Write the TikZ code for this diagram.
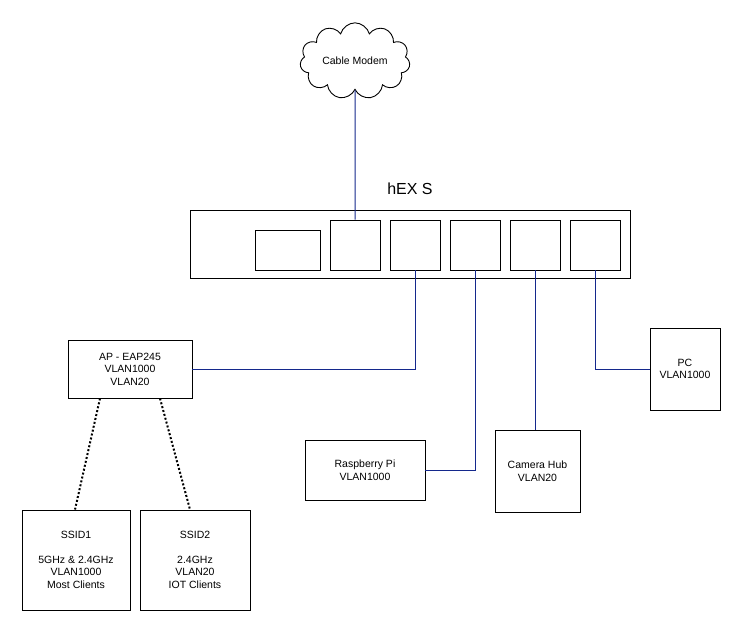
\documentclass[tikz,border=0pt]{standalone}
\usepackage{fontspec}
\setmainfont{Liberation Sans}
\usetikzlibrary{shapes.symbols,positioning}
\definecolor{linkblue}{RGB}{20,40,140}
\begin{document}
\begin{tikzpicture}[x=1pt,y=-1pt,line width=0.9pt,
  box/.style={draw,align=center,font=\fontsize{10.5}{12.5}\selectfont},
  port/.style={draw,minimum width=50pt,minimum height=50pt},
  link/.style={draw=linkblue,line width=1pt},
  wifi/.style={draw,line width=2pt,dotted}]
	\useasboundingbox (0,0) rectangle (751,631);
	\node[cloud,draw,cloud puffs=11,aspect=1.8,minimum width=110pt,minimum height=62pt,font=\fontsize{10.5}{12}\selectfont] (modem) at (355,61) {Cable Modem};
	\node[font=\fontsize{16}{18}\selectfont] (hexlabel) at (410,189) {hEX S};
	\node[draw,minimum width=440pt,minimum height=68pt] (hex) at (410,244) {};
	\node[draw,minimum width=65pt,minimum height=40pt] (sfp) at (287.5,250) {};
	\node[port] (p1) at (355,245) {};
	\node[port] (p2) at (415,245) {};
	\node[port] (p3) at (475,245) {};
	\node[port] (p4) at (535,245) {};
	\node[port] (p5) at (595,245) {};
	\node[box,minimum width=124pt,minimum height=58pt] (ap) at (130,369) {AP - EAP245\\VLAN1000\\VLAN20};
	\node[box,minimum width=120pt,minimum height=60pt] (rpi) at (365,470) {Raspberry Pi\\VLAN1000};
	\node[box,minimum width=85pt,minimum height=82pt] (cam) at (537.5,471) {Camera Hub\\VLAN20};
	\node[box,minimum width=70pt,minimum height=82pt] (pc) at (685,369) {PC\\VLAN1000};
	\node[box,minimum width=108pt,minimum height=100pt] (ssid1) at (76,560) {SSID1\\[12pt]5GHz \& 2.4GHz\\VLAN1000\\Most Clients};
	\node[box,minimum width=110pt,minimum height=100pt] (ssid2) at (195,560) {SSID2\\[12pt]2.4GHz\\VLAN20\\IOT Clients};
	% uplink and ports
	\draw[link] (modem.south) -- (p1.north);
	\draw[link] (p2.south) |- (ap.east);
	\draw[link] (p3.south) |- (rpi.east);
	\draw[link] (p4.south) -- (p4.south |- cam.north);
	\draw[link] (p5.south) |- (pc.west);
	% wireless
	\draw[wifi] (ap.south -| 100,0) -- (ssid1.north -| 75,0);
	\draw[wifi] (ap.south -| 160,0) -- (ssid2.north -| 190,0);
\end{tikzpicture}
\end{document}
